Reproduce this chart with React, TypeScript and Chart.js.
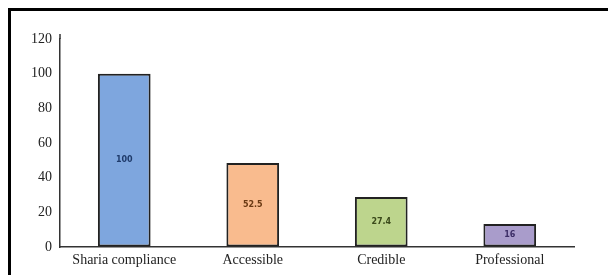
import React, { useEffect, useRef } from "react";
import { Chart, registerables } from "chart.js";

Chart.register(...registerables);

const categories = ["Sharia compliance", "Accessible", "Credible", "Professional"];
const values = [100, 48.5, 28.8, 13.3];
const valueLabels = ["100", "52.5", "27.4", "16"];
const yTicks = [0, 20, 40, 60, 80, 100, 120];
const barColors = ["#7EA6DE", "#F9BB8E", "#BDD58D", "#A99CCB"];
const labelColors = ["#1F3B6B", "#6B3A14", "#3B4A1B", "#3C2D66"];

const valueLabelPlugin = {
  id: "valueLabels",
  afterDatasetsDraw(chart: any) {
    const ctx = chart.ctx;
    const meta = chart.getDatasetMeta(0);
    ctx.save();
    ctx.font = "bold 8px 'DejaVu Sans'";
    ctx.textAlign = "center";
    ctx.textBaseline = "middle";
    meta.data.forEach((bar: any, i: number) => {
      const y = (bar.y + bar.base) / 2;
      ctx.fillStyle = labelColors[i];
      ctx.fillText(valueLabels[i], bar.x, y);
    });
    // extend the y axis line slightly above the top tick
    const area = chart.chartArea;
    ctx.strokeStyle = "#333333";
    ctx.lineWidth = 1.5;
    ctx.beginPath();
    ctx.moveTo(area.left, area.top);
    ctx.lineTo(area.left, area.top - 5);
    ctx.stroke();
    ctx.restore();
  },
};

export default function App() {
  const ref = useRef<HTMLCanvasElement>(null);
  useEffect(() => {
    if (!ref.current) return;
    const chart = new Chart(ref.current, {
      type: "bar",
      data: {
        labels: categories,
        datasets: [
          {
            data: values,
            backgroundColor: barColors,
            borderColor: "#222222",
            borderWidth: 2,
            borderSkipped: false,
            barPercentage: 0.41,
            categoryPercentage: 1,
          },
        ],
      },
      options: {
        animation: false,
        responsive: false,
        maintainAspectRatio: false,
        layout: { padding: { top: 28, right: 42, left: 0, bottom: 0 } },
        plugins: { legend: { display: false }, tooltip: { enabled: false } },
        scales: {
          x: {
            grid: { display: true, color: "rgba(0,0,0,0)", drawTicks: false },
            border: { display: true, color: "#333333", width: 1.5 },
            ticks: {
              color: "#222222",
              font: { family: "'Liberation Serif'", size: 14 },
              padding: 5,
              maxRotation: 0,
              autoSkip: false,
            },
            afterFit(scale: any) {
              scale.height = 28;
            },
          },
          y: {
            min: 0,
            max: 120,
            afterBuildTicks(scale: any) {
              scale.ticks = yTicks.map((v) => ({ value: v }));
            },
            grid: { display: true, color: "rgba(0,0,0,0)", drawTicks: false },
            border: { display: true, color: "#333333", width: 1.5 },
            ticks: {
              color: "#222222",
              font: { family: "'Liberation Serif'", size: 14 },
              padding: 8,
            },
            afterFit(scale: any) {
              scale.width = 49;
            },
          },
        },
      },
      plugins: [valueLabelPlugin],
    });
    return () => chart.destroy();
  }, []);
  return (
    <div
      style={{
        borderTop: "3px solid #000",
        borderLeft: "3px solid #000",
        width: 620,
        height: 270,
        boxSizing: "border-box",
        background: "#fff",
      }}
    >
      <canvas ref={ref} width={605} height={264} style={{ display: "block" }} />
    </div>
  );
}
